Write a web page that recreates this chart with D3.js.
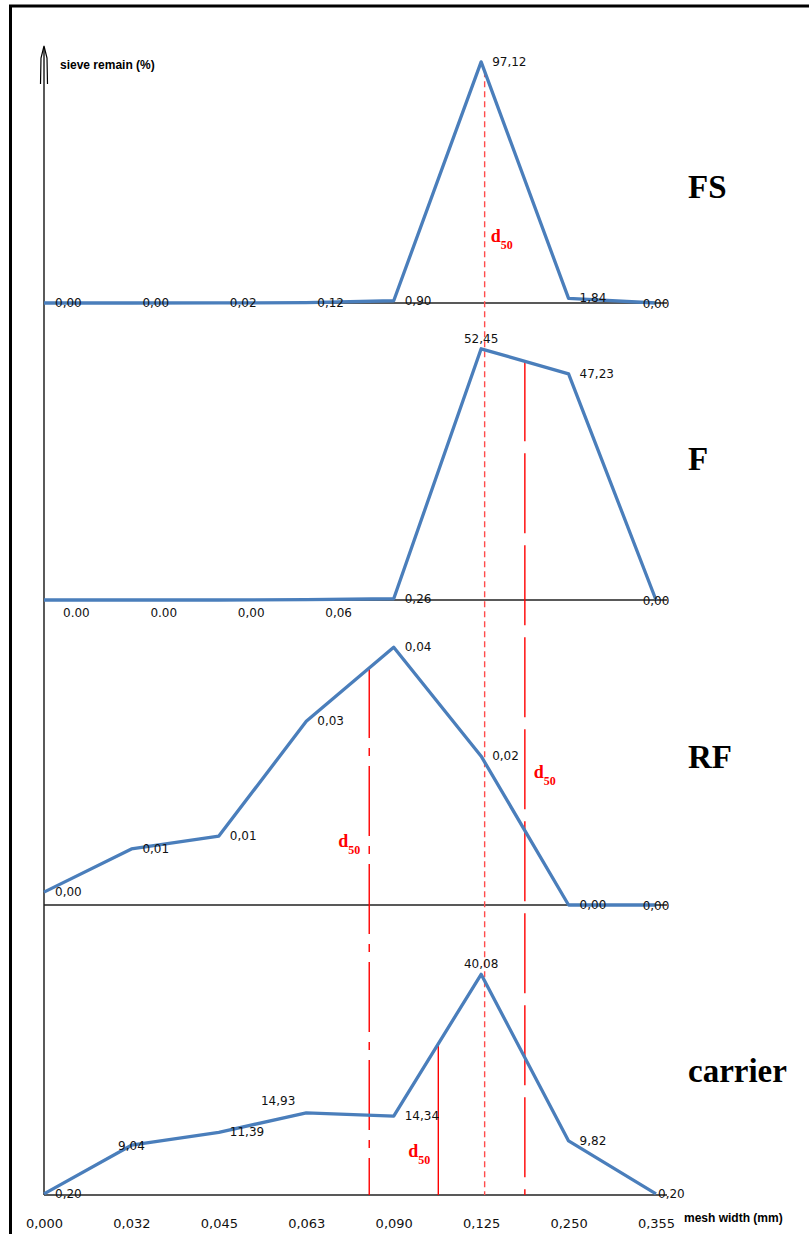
<!DOCTYPE html>
<html>
<head>
<meta charset="utf-8">
<script src="https://cdn.jsdelivr.net/npm/d3@7"></script>
<style>
  body { margin: 0; background: #fff; }
  .ptlabel { font-family: "DejaVu Sans", Verdana, sans-serif; font-size: 12px; fill: #111; }
  .tick text { font-family: "DejaVu Sans", Verdana, sans-serif; font-size: 13px; fill: #111; }
  .axtitle { font-family: "Liberation Sans", Arial, sans-serif; font-size: 12px; font-weight: bold; }
  .pname { font-family: "Liberation Serif", "Times New Roman", serif; font-size: 33px; font-weight: bold; }
  .d50 { font-family: "Liberation Serif", "Times New Roman", serif; font-weight: bold; fill: #ff0000; }
</style>
</head>
<body>
<div id="chart"></div>
<script>

// mesh widths (mm) - categorical x axis
var meshWidth = ["0,000", "0,032", "0,045", "0,063", "0,090", "0,125", "0,250", "0,355"];

var sampleNames = ["FS", "F", "RF", "carrier"];

// sieve remain (%) per sample
var fsValues = [0, 0, 0.02, 0.12, 0.90, 97.12, 1.84, 0];
var fValues = [0, 0, 0, 0.06, 0.26, 52.45, 47.23, 0];
var rfValues = [0.002, 0.0087, 0.0107, 0.0285, 0.040, 0.0231, 0, 0];
var carrierValues = [0.20, 9.04, 11.39, 14.93, 14.34, 40.08, 9.82, 0.20];

// data labels as printed on the chart
var fsLabels = ["0,00", "0,00", "0,02", "0,12", "0,90", "97,12", "1,84", "0,00"];
var fLabels = ["0.00", "0.00", "0,00", "0,06", "0,26", "52,45", "47,23", "0,00"];
var rfLabels = ["0,00", "0,01", "0,01", "0,03", "0,04", "0,02", "0,00", "0,00"];
var carrierLabels = ["0,20", "9,04", "11,39", "14,93", "14,34", "40,08", "9,82", "0,20"];

// d50 position along the mesh axis (in category steps)
var d50Pos = [5.04, 5.50, 3.72, 4.51];

var width = 809, height = 1234;

// layout per panel
var panel = [
  { base: 303, yMax: 100.7, nameY: 198, labelPos: ["r","r","r","r","r","r","r","c"], dash: "6,4", color: "#ff4d4d", d50dx: 6, d50y: 242 },
  { base: 600, yMax: 52.2, nameY: 470, labelPos: ["br","br","br","br","r","a","r","c"], dash: "80,12", color: "#ff0000", d50dx: 9, d50y: 778 },
  { base: 905, yMax: 0.0388, nameY: 768, labelPos: ["r","r","r","r","r","r","r","c"], dash: "70,10,8,10", color: "#ff0000", d50dx: -31, d50y: 847 },
  { base: 1195, yMax: 45.4, nameY: 1082, labelPos: ["r","c","r","al","r","a","r","rr"], dash: null, color: "#ff0000", d50dx: -30, d50y: 1157 }
];
var series = [fsValues, fValues, rfValues, carrierValues];
var labels = [fsLabels, fLabels, rfLabels, carrierLabels];
var plotH = 250;
var bottom = panel[3].base;

var svg = d3.select("#chart").append("svg")
  .attr("width", width)
  .attr("height", height);

svg.append("rect").attr("width", width).attr("height", height).attr("fill", "#fff");

// frame
svg.append("line").attr("x1", 9).attr("x2", 809).attr("y1", 6).attr("y2", 6)
  .attr("stroke", "#000").attr("stroke-width", 3);
svg.append("line").attr("x1", 10.5).attr("x2", 10.5).attr("y1", 5).attr("y2", height)
  .attr("stroke", "#000").attr("stroke-width", 3);

var xPoint = d3.scalePoint().domain(meshWidth).range([44, 656]);
var xIdx = d3.scaleLinear().domain([0, meshWidth.length - 1]).range([44, 656]);

var yScales = panel.map(function (p) {
  return d3.scaleLinear().domain([0, p.yMax]).range([p.base, p.base - plotH]);
});

function valueAt(vals, t) {
  var i = Math.floor(t), f = t - i;
  return vals[i] + (vals[i + 1] - vals[i]) * f;
}

// y axis with arrow
svg.append("line").attr("x1", 44).attr("x2", 44).attr("y1", 48).attr("y2", bottom)
  .attr("stroke", "#000").attr("stroke-width", 1.3);
svg.append("path").attr("d", "M40.5,84 L41,58 L44,46 L47,58 L47.5,84")
  .attr("fill", "none").attr("stroke", "#000").attr("stroke-width", 1.2);

svg.append("text").attr("class", "axtitle").attr("x", 60).attr("y", 69).text("sieve remain (%)");
svg.append("text").attr("class", "axtitle").attr("x", 684).attr("y", 1222).text("mesh width (mm)");

// panel baselines
panel.forEach(function (p) {
  svg.append("line").attr("x1", 44).attr("x2", 667).attr("y1", p.base).attr("y2", p.base)
    .attr("stroke", "#222").attr("stroke-width", 1.4);
});

// d50 lines
d50Pos.forEach(function (t, i) {
  var p = panel[i];
  var x = xIdx(t);
  var yTop = yScales[i](valueAt(series[i], t));
  svg.append("line")
    .attr("x1", x).attr("x2", x).attr("y1", yTop).attr("y2", bottom)
    .attr("stroke", p.color).attr("stroke-width", 1.4)
    .attr("stroke-dasharray", p.dash);
});

// curves
var line = d3.line()
  .x(function (d, i) { return xIdx(i); });

series.forEach(function (vals, k) {
  line.y(function (d) { return yScales[k](d); });
  svg.append("path")
    .datum(vals)
    .attr("d", line)
    .attr("fill", "none")
    .attr("stroke", "#4a7ebb")
    .attr("stroke-width", 3.3)
    .attr("stroke-linejoin", "round");
});

// data labels
series.forEach(function (vals, k) {
  svg.selectAll(".pl" + k)
    .data(vals).enter()
    .append("text")
    .attr("class", "ptlabel pl" + k)
    .each(function (d, i) {
      var pos = panel[k].labelPos[i];
      var x = xIdx(i), y = yScales[k](d);
      var el = d3.select(this).text(labels[k][i]);
      if (pos === "r") { el.attr("x", x + 11).attr("y", y + 4); }
      else if (pos === "rr") { el.attr("x", x + 2).attr("y", y + 4); }
      else if (pos === "br") { el.attr("x", x + 19).attr("y", y + 17); }
      else if (pos === "a") { el.attr("x", x).attr("y", y - 6).attr("text-anchor", "middle"); }
      else if (pos === "al") { el.attr("x", x - 11).attr("y", y - 8).attr("text-anchor", "end"); }
      else { el.attr("x", x).attr("y", y + 5).attr("text-anchor", "middle"); }
    });
});

// sample names
sampleNames.forEach(function (n, i) {
  svg.append("text").attr("class", "pname").attr("x", 688).attr("y", panel[i].nameY).text(n);
});

// d50 labels
d50Pos.forEach(function (t, i) {
  var p = panel[i];
  var txt = svg.append("text").attr("class", "d50")
    .attr("x", xIdx(t) + p.d50dx).attr("y", p.d50y);
  txt.append("tspan").style("font-size", "18px").text("d");
  txt.append("tspan").style("font-size", "12px").attr("dy", 7).text("50");
});

// x axis tick labels
var xAxis = d3.axisBottom(xPoint).tickSize(0).tickPadding(24);
var gx = svg.append("g")
  .attr("transform", "translate(0," + bottom + ")")
  .call(xAxis);
gx.select(".domain").remove();

</script>
</body>
</html>
